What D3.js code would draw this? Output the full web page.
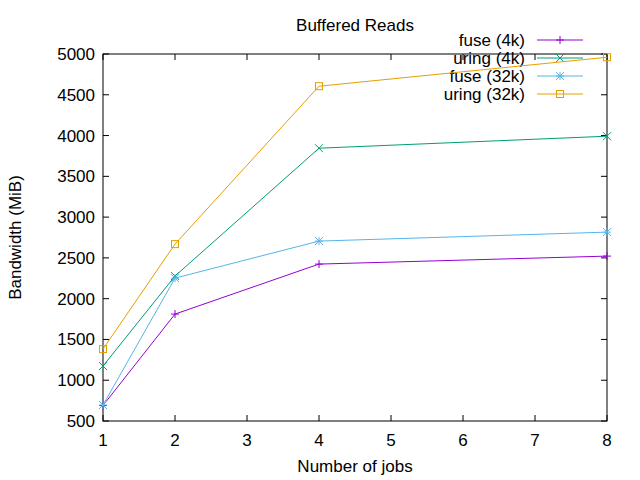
<!DOCTYPE html>
<html><head><meta charset="utf-8">
<script src="https://cdn.jsdelivr.net/npm/d3@7"></script>
<style>body{margin:0;background:#fff}text{font-family:"Liberation Sans",Arial,sans-serif}</style>
</head><body>
<script>
var jobs = [1, 2, 4, 8];
var fuse4k = [690, 1811, 2424, 2522];
var uring4k = [1174, 2277, 3845, 3992];
var fuse32k = [696, 2252, 2706, 2816];
var uring32k = [1382, 2669, 4605, 4960];
var seriesNames = ["fuse (4k)", "uring (4k)", "fuse (32k)", "uring (32k)"];
var seriesColors = ["#9400d3", "#009e73", "#56b4e9", "#e69f00"];
var markers = ["plus", "cross", "star", "square"];
var series = [fuse4k, uring4k, fuse32k, uring32k];

var margin = {left: 103, right: 33, top: 54, bottom: 59};
var W = 640, H = 480, fs = 17;
var svg = d3.select("body").append("svg").attr("width", W).attr("height", H);
var x = d3.scaleLinear().domain([1, 8]).range([margin.left, W - margin.right]);
var y = d3.scaleLinear().domain([500, 5000]).range([H - margin.bottom, margin.top]);

var x0 = x.range()[0], x1 = x.range()[1], y0 = y.range()[0], y1 = y.range()[1];

// ticks, mirrored on both sides like gnuplot
var g = svg.append("g").attr("stroke", "#000").attr("stroke-width", 1);
d3.range(1, 9).forEach(function(v) {
  g.append("line").attr("x1", x(v)).attr("x2", x(v)).attr("y1", y0).attr("y2", y0 - 6);
  g.append("line").attr("x1", x(v)).attr("x2", x(v)).attr("y1", y1).attr("y2", y1 + 6);
  svg.append("text").attr("x", x(v)).attr("y", y0 + 25).attr("text-anchor", "middle")
    .attr("font-size", fs).text(v);
});
d3.range(500, 5001, 500).forEach(function(v) {
  g.append("line").attr("x1", x0).attr("x2", x0 + 6).attr("y1", y(v)).attr("y2", y(v));
  g.append("line").attr("x1", x1).attr("x2", x1 - 6).attr("y1", y(v)).attr("y2", y(v));
  svg.append("text").attr("x", x0 - 8).attr("y", y(v) + 6).attr("text-anchor", "end")
    .attr("font-size", fs).text(v);
});
svg.append("rect").attr("x", x0).attr("y", y1).attr("width", x1 - x0).attr("height", y0 - y1)
  .attr("fill", "none").attr("stroke", "#000");

svg.append("text").attr("x", (x0 + x1) / 2).attr("y", 31).attr("text-anchor", "middle")
  .attr("font-size", fs).text("Buffered Reads");
svg.append("text").attr("x", (x0 + x1) / 2).attr("y", 472).attr("text-anchor", "middle")
  .attr("font-size", fs).text("Number of jobs");
svg.append("text").attr("transform", "translate(21," + ((y0 + y1) / 2) + ") rotate(-90)")
  .attr("text-anchor", "middle").attr("font-size", fs).text("Bandwidth (MiB)");

function marker(sel, type, cx, cy, color) {
  var s = 4;
  if (type === "plus" || type === "star") {
    sel.append("path").attr("d", "M" + (cx - s) + "," + cy + "H" + (cx + s) + "M" + cx + "," + (cy - s) + "V" + (cy + s))
      .attr("stroke", color).attr("fill", "none");
  }
  if (type === "cross" || type === "star") {
    sel.append("path").attr("d", "M" + (cx - s) + "," + (cy - s) + "L" + (cx + s) + "," + (cy + s) + "M" + (cx - s) + "," + (cy + s) + "L" + (cx + s) + "," + (cy - s))
      .attr("stroke", color).attr("fill", "none");
  }
  if (type === "square") {
    sel.append("rect").attr("x", cx - 3.5).attr("y", cy - 3.5).attr("width", 7).attr("height", 7)
      .attr("stroke", color).attr("fill", "none");
  }
}

var line = d3.line().x(function(d, i) { return x(jobs[i]); }).y(function(d) { return y(d); });
series.forEach(function(vals, k) {
  var sg = svg.append("g");
  sg.append("path").datum(vals).attr("d", line).attr("fill", "none")
    .attr("stroke", seriesColors[k]).attr("stroke-width", 1);
  vals.forEach(function(v, i) { marker(sg, markers[k], x(jobs[i]), y(v), seriesColors[k]); });
  var ly = 40 + k * 18;
  svg.append("text").attr("x", 525).attr("y", ly + 6).attr("text-anchor", "end")
    .attr("font-size", fs).text(seriesNames[k]);
  sg.append("line").attr("x1", 537).attr("x2", 583).attr("y1", ly).attr("y2", ly)
    .attr("stroke", seriesColors[k]);
  marker(sg, markers[k], 560, ly, seriesColors[k]);
});
</script>
</body></html>
